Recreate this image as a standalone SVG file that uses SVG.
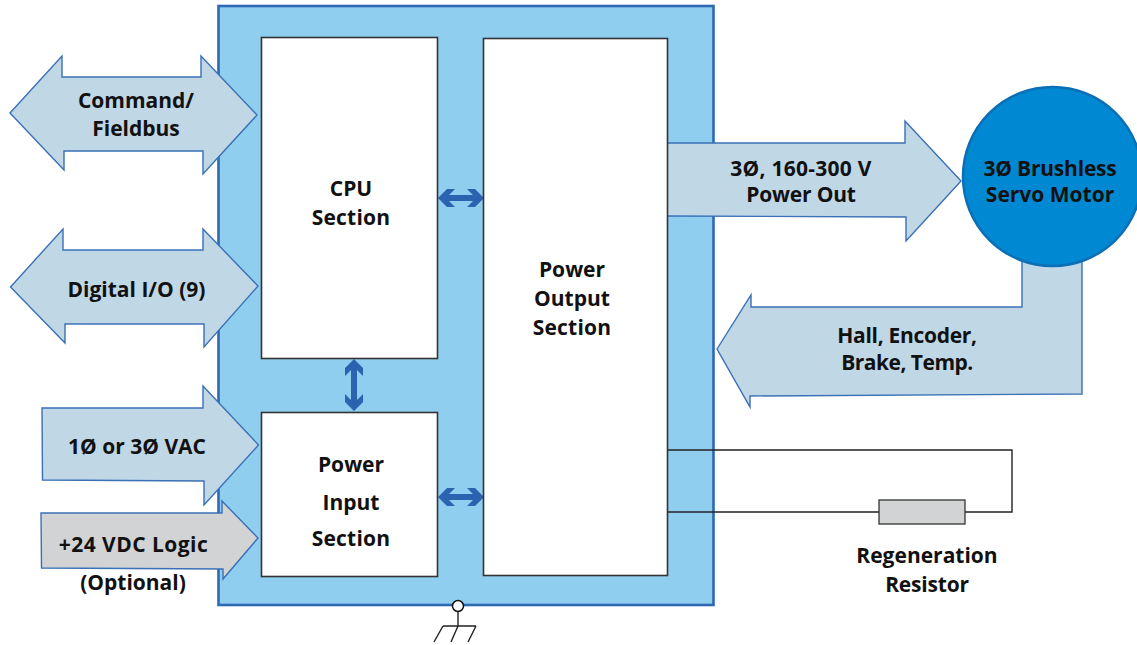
<svg xmlns="http://www.w3.org/2000/svg" width="1137" height="645" viewBox="0 0 1137 645">
<style>
text{font-family:"Open Sans","Noto Sans","Liberation Sans",sans-serif;font-weight:700;font-size:21px;fill:#111;text-anchor:middle}
.a{fill:#c0d7e6;stroke:#3a70b6;stroke-width:1.4;stroke-linejoin:miter}
.g{fill:#d1d3d4}
.b{fill:#fff;stroke:#333;stroke-width:1.6}
.w{fill:none;stroke:#222;stroke-width:1.4}
.s{fill:#2b63b0}
</style>
<rect id="drive" x="218.5" y="6" width="495" height="599" fill="#90cef0" stroke="#2f68b3" stroke-width="2.6"/>
<g id="connectors">
<path class="a" d="M10 113L62 56V77H201V56L257 115L203 174V151H64V170Z"/>
<path class="a" d="M10.500 287L63 229V250H203V229L258 286L204 347V324H65V343Z"/>
<path class="a" d="M42 408H203V386L258.500 445L204 505V481L42.500 480Z"/>
<path class="a g" d="M41 513H222V501L258 538L223 579V569L41.500 568Z"/>
<path class="a" d="M667 143H905V121L961 181L906 241V217L667 216"/>
<path class="a" d="M717 349L751 295V307H1022V250H1082V394L750 396V407Z"/>
<path class="w" d="M667 450H1012V512H965M879 512H667"/>
<path class="s" d="M438 198L447 189H455L449 195H473L467 189H475L484 198L475 207H467L473 201H449L455 207H447Z"/>
<path class="s" d="M438 497L447 488H455L449 494H473L467 488H475L484 497L475 506H467L473 500H449L455 506H447Z"/>
<path class="s" d="M354 359L363 368V376L357 370V400L363 394V402L354 411L345 402V394L351 400V370L345 376V368Z"/>
<path class="w" d="M458 611V626M443 626H476M443 626L434 642M458 626L451 642M476 626L468 642" stroke="#111"/>
</g>
<g id="cpu"><rect class="b" x="261.500" y="37.500" width="176" height="321"/><text x="351" y="196">CPU</text><text x="351" y="225" letter-spacing=".2">Section</text></g>
<g id="power-input"><rect class="b" x="261.500" y="412.500" width="176" height="164"/><text x="351" y="472">Power</text><text x="351" y="510">Input</text><text x="351" y="546" letter-spacing=".2">Section</text></g>
<g id="power-output"><rect class="b" x="483.500" y="38.500" width="184" height="537"/><text x="572" y="277">Power</text><text x="572" y="306">Output</text><text x="572" y="335" letter-spacing=".2">Section</text></g>
<g id="motor"><circle cx="1052.500" cy="176.500" r="89.500" fill="#0089d2" stroke="#0b6fb5" stroke-width="2.500"/><text x="1050" y="176" letter-spacing="-.2">3Ø Brushless</text><text x="1050" y="202">Servo Motor</text></g>
<g id="resistor"><rect x="879" y="500" width="86" height="24" fill="#d1d3d4" stroke="#333" stroke-width="1.300"/><text x="927" y="563">Regeneration</text><text x="927" y="592" letter-spacing="-.2">Resistor</text></g>
<g id="ground"><circle cx="458" cy="606" r="5.500" fill="#fff" stroke="#111" stroke-width="1.500"/></g>
<g id="labels">
<text x="136" y="108">Command/</text><text x="136" y="136">Fieldbus</text>
<text x="136.500" y="297">Digital I/O (9)</text>
<text x="137" y="454">1Ø or 3Ø VAC</text>
<text x="133.500" y="552" letter-spacing=".45">+24 VDC Logic</text>
<text x="133" y="590">(Optional)</text>
<text x="801" y="176" letter-spacing=".25">3Ø, 160-300 V</text><text x="801" y="202" letter-spacing="-.2">Power Out</text>
<text x="907" y="343" letter-spacing="-.3">Hall, Encoder,</text><text x="907" y="370" letter-spacing="-.5">Brake, Temp.</text>
</g>
</svg>
